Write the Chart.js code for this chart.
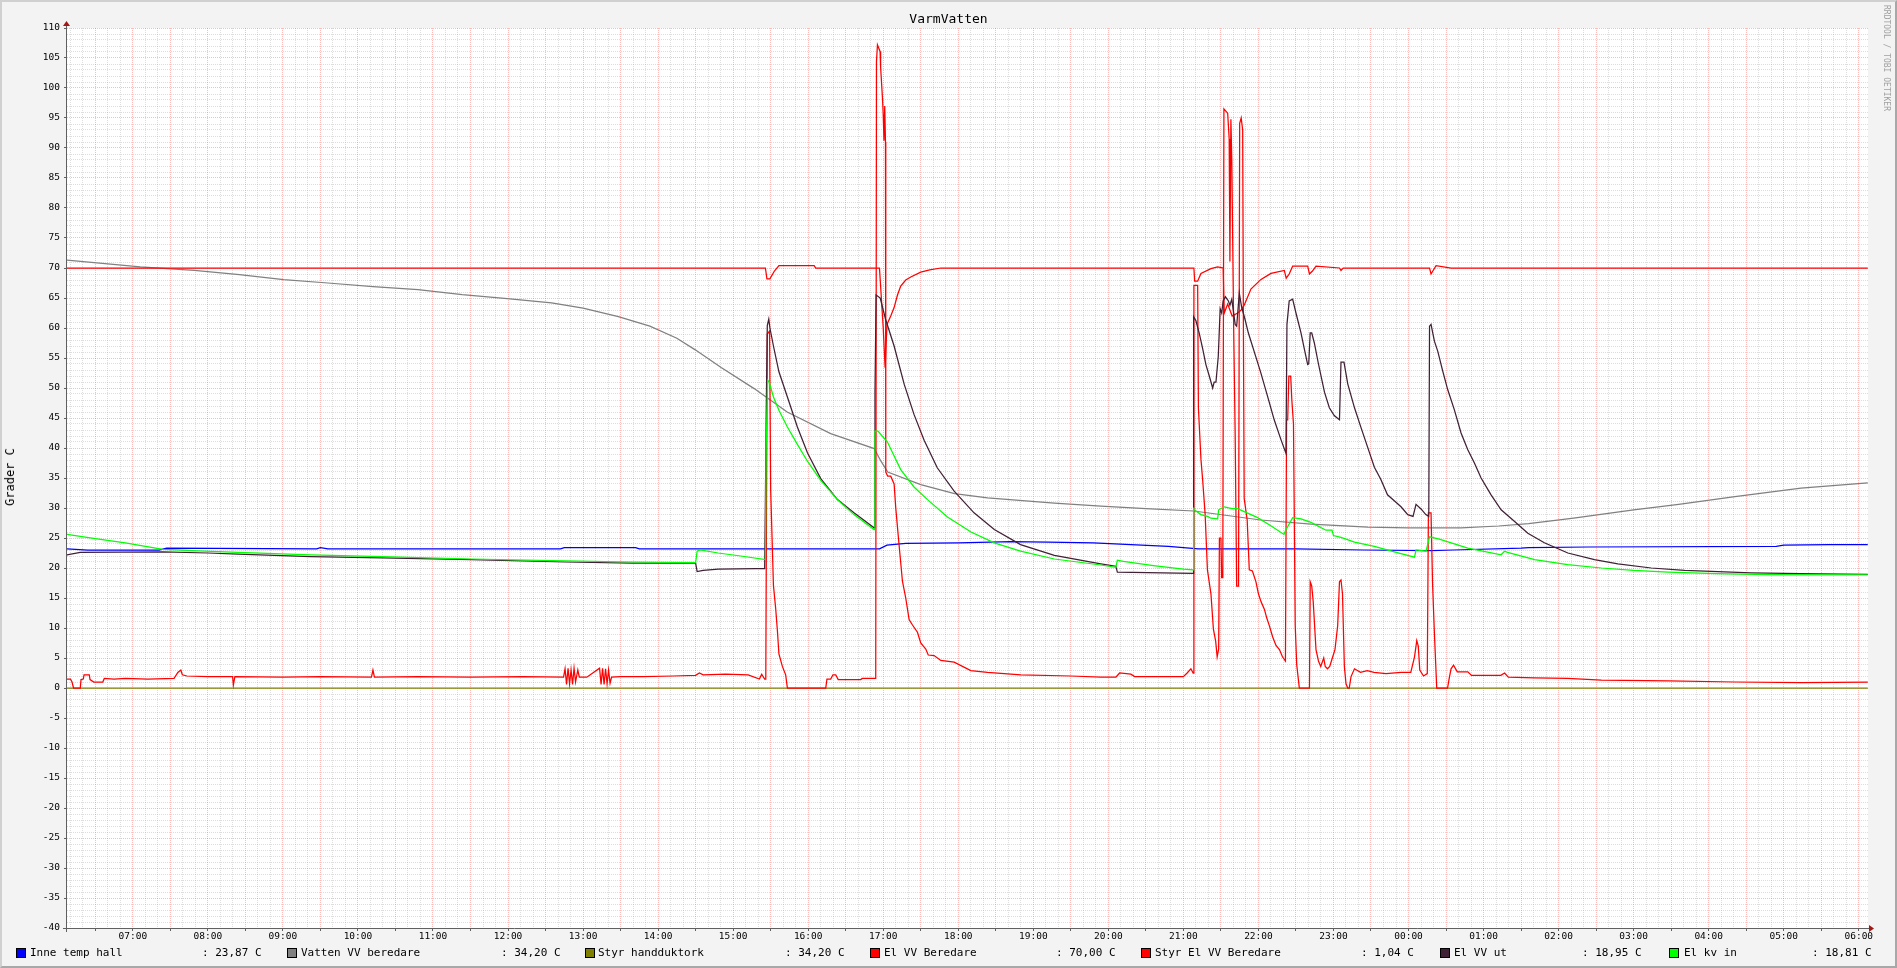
<!DOCTYPE html>
<html>
<head>
<meta charset="utf-8">
<title>VarmVatten</title>
<script src="https://cdn.jsdelivr.net/npm/chart.js@4/dist/chart.umd.min.js"></script>
<style>
html,body{margin:0;padding:0;background:#f3f3f3;}
#wrap{position:relative;width:1897px;height:968px;overflow:hidden;background:#f3f3f3;}
#frame{position:absolute;left:0;top:0;width:1897px;height:968px;box-sizing:border-box;border-top:2px solid #d0d0d0;border-left:2px solid #d0d0d0;border-right:2px solid #a8a8a8;border-bottom:2px solid #a8a8a8;pointer-events:none;}
canvas{position:absolute;left:0;top:0;}
.t{position:absolute;font-family:'DejaVu Sans Mono',monospace;color:#000;white-space:pre;line-height:1;}
.sq{position:absolute;width:8px;height:8px;border:1px solid #000;}
</style>
</head>
<body>
<div id="wrap">
<canvas id="c" width="1897" height="968"></canvas>
<div class="t" style="left:0;width:1897px;text-align:center;top:12px;font-size:13px;">VarmVatten</div>
<div class="t" style="left:10px;top:477px;font-size:12px;transform:translate(-50%,-50%) rotate(-90deg);">Grader C</div>
<div class="t" style="left:1882px;top:5px;font-size:8px;color:#a0a0a0;writing-mode:vertical-rl;">RRDTOOL / TOBI OETIKER</div>
<div id="legend"></div>
<div id="frame"></div>
</div>
<script>
// ---- time range (decimal hours, after midnight +24) ----
const T0 = 6.123, T1 = 30.123;

// ---- series: [time(h), value(C)] ----
const inneTempHall = [[6.12,23.2],[6.4,23.0],[7.35,23.0],[7.45,23.3],[9.45,23.2],[9.5,23.4],[9.6,23.2],[12.7,23.2],[12.75,23.4],[13.7,23.4],[13.75,23.2],[16.95,23.2],[17.05,23.8],[17.3,24.1],[18.0,24.2],[18.7,24.4],[19.2,24.3],[19.8,24.2],[20.3,23.9],[20.8,23.6],[21.2,23.2],[22.5,23.2],[23.4,23.0],[24.3,22.9],[24.6,23.0],[25.5,23.3],[25.6,23.4],[26.4,23.5],[28.9,23.6],[29.0,23.8],[29.6,23.9],[30.12,23.9]];

const vattenVVBeredare = [[6.12,71.3],[7.1,70.2],[7.82,69.6],[8.42,68.9],[9.01,68.05],[9.6,67.5],[10.2,66.9],[10.8,66.4],[11.39,65.55],[11.99,64.9],[12.58,64.2],[13.0,63.3],[13.47,61.9],[13.89,60.3],[14.25,58.3],[14.49,56.4],[14.84,53.4],[15.28,49.9],[15.72,46.0],[16.3,42.4],[16.88,39.9],[16.97,37.8],[17.06,36.0],[17.5,33.9],[17.95,32.4],[18.39,31.7],[19.28,30.8],[19.9,30.3],[20.5,29.9],[21.14,29.5],[22.03,28.0],[22.7,27.3],[23.46,26.8],[24.0,26.7],[24.7,26.7],[25.2,27.0],[25.6,27.4],[26.2,28.3],[27.0,29.7],[27.6,30.6],[28.35,31.9],[29.23,33.3],[30.12,34.2]];

const styrHandduktork = [[6.12,0],[30.12,0]];

const elVVBeredare = [[6.12,70],[15.43,70],[15.45,68.2],[15.49,68.2],[15.55,69.5],[15.61,70.4],[16.08,70.4],[16.1,70],[16.95,70],[16.97,66],[17.0,60],[17.025,53.4],[17.05,60.6],[17.1,62],[17.145,63.4],[17.19,65.5],[17.233,67.0],[17.3,68.0],[17.367,68.5],[17.5,69.3],[17.62,69.7],[17.767,70],[21.14,70],[21.15,67.8],[21.19,67.8],[21.234,69.1],[21.367,69.9],[21.456,70.2],[21.53,70.0],[21.545,62.5],[21.59,64],[21.65,62],[21.723,62.5],[21.77,63],[21.81,63.8],[21.9,66.5],[22.034,68.1],[22.167,69.1],[22.345,69.6],[22.37,68.3],[22.41,69.0],[22.456,70.3],[22.656,70.3],[22.68,69.0],[22.72,69.5],[22.767,70.3],[23.08,70],[23.1,69.6],[23.13,70],[24.28,70],[24.3,69],[24.367,70.4],[24.567,70],[30.12,70]];

const styrElVVBeredare = [[6.12,1.5],[6.17,1.5],[6.19,1.0],[6.21,0],[6.30,0],[6.31,1.4],[6.34,1.5],[6.35,2.2],[6.42,2.2],[6.43,1.4],[6.48,1.0],[6.60,1.0],[6.62,1.6],[6.75,1.5],[6.9,1.6],[7.2,1.5],[7.55,1.6],[7.6,2.6],[7.64,3.0],[7.66,2.2],[7.72,2.0],[8.0,1.9],[8.33,1.9],[8.34,0.5],[8.36,1.9],[9.0,1.8],[9.5,1.9],[10.18,1.8],[10.2,3.0],[10.22,1.8],[10.8,1.9],[11.5,1.8],[12.2,1.9],[12.74,1.8],
[12.76,3.2],[12.78,0.6],[12.8,3.3],[12.82,0.7],[12.84,3.0],[12.86,0.6],[12.88,3.3],[12.9,1.0],[12.93,3.0],[12.95,1.8],[13.05,1.8],[13.22,3.3],[13.24,0.6],[13.26,3.3],[13.28,0.6],[13.3,3.2],[13.32,0.7],[13.34,3.0],[13.36,0.8],[13.38,1.8],[13.5,1.9],[13.8,1.9],[14.2,2.0],[14.5,2.1],[14.55,2.5],[14.6,2.2],[14.9,2.3],[15.2,2.2],[15.35,1.5],[15.38,2.3],[15.42,1.5],
[15.435,1.5],[15.445,31.7],[15.455,59.0],[15.485,59.5],[15.5,33.1],[15.537,17.1],[15.567,13.2],[15.59,9.5],[15.61,5.7],[15.656,3.6],[15.7,2.2],[15.723,0],[16.234,0],[16.25,1.5],[16.3,1.5],[16.33,2.2],[16.367,2.2],[16.4,1.4],[16.7,1.4],[16.72,1.6],[16.9,1.6],
[16.91,104.4],[16.923,107.2],[16.958,106.1],[16.965,103.5],[16.99,98.3],[17.0,95.5],[17.01,91.2],[17.02,97],[17.03,91],[17.034,36.0],[17.06,35.3],[17.1,35.3],[17.145,34],[17.167,30],[17.21,24],[17.256,17.8],[17.3,15],[17.345,11.4],[17.39,10.5],[17.456,9.3],[17.5,7.5],[17.567,6.5],[17.6,5.5],[17.678,5.4],[17.767,4.6],[17.945,4.3],[18.167,2.9],[18.39,2.6],[18.834,2.2],[19.5,2.0],[19.9,1.8],[20.1,1.8],[20.15,2.5],[20.3,2.3],[20.35,1.9],[21.0,1.9],[21.05,2.5],[21.1,3.2],[21.13,2.5],
[21.14,67.1],[21.19,67.1],[21.2,46.7],[21.234,38.1],[21.256,34.8],[21.29,28.9],[21.32,19.7],[21.367,15.7],[21.4,9.8],[21.43,7.8],[21.45,5.2],[21.47,6.5],[21.48,25],[21.5,25],[21.51,18.4],[21.525,18.4],[21.54,96.5],[21.59,95.8],[21.61,91.5],[21.62,71.1],[21.633,94.8],[21.645,88],[21.67,60],[21.69,42.1],[21.71,17],[21.735,17],[21.75,94.1],[21.77,95],[21.79,93],[21.8,58.9],[21.81,31.6],[21.85,28],[21.878,19.7],[21.92,19.5],[21.967,17.7],[22.0,15.7],[22.034,14.4],[22.08,13.1],[22.11,11.7],[22.145,10.4],[22.19,8.5],[22.234,7.1],[22.28,6.4],[22.32,5.2],[22.36,4.5],[22.375,44.7],[22.39,44.7],[22.405,52],[22.43,52],[22.445,48],[22.467,44],[22.49,10.5],[22.51,3.9],[22.545,0],[22.68,0],[22.69,17.7],[22.71,17.0],[22.73,14.4],[22.767,6.4],[22.8,4.5],[22.83,3.6],[22.87,5.0],[22.89,3.6],[22.92,3.2],[22.95,3.6],[22.99,5.2],[23.02,6.4],[23.056,10.4],[23.08,17.7],[23.1,18.0],[23.12,15.7],[23.145,3.6],[23.167,0.7],[23.19,0],[23.21,0],[23.234,1.9],[23.28,3.2],[23.36,2.6],[23.45,2.9],[23.54,2.6],[23.7,2.4],[23.9,2.6],[24.03,2.6],[24.08,5.2],[24.11,7.9],[24.13,7.0],[24.15,3.0],[24.2,2.0],[24.25,2.4],[24.265,29.2],[24.3,29.2],[24.32,17.5],[24.345,9.1],[24.376,0],[24.52,0],[24.545,1.8],[24.567,3.2],[24.6,3.8],[24.65,2.7],[24.79,2.7],[24.84,2.1],[25.23,2.1],[25.28,2.5],[25.33,1.8],[25.68,1.7],[26.12,1.6],[26.57,1.3],[27.46,1.2],[28.35,1.0],[29.23,0.9],[30.12,1.0]];

const elVVUt = [[6.12,22.2],[6.3,22.6],[7.4,22.7],[8.0,22.5],[8.4,22.3],[9.37,21.9],[10.32,21.7],[11.51,21.4],[12.76,21.0],[13.65,20.8],[14.5,20.8],[14.52,19.4],[14.6,19.6],[14.8,19.8],[15.3,19.9],[15.42,19.9],[15.43,31.7],[15.44,45],[15.455,60.4],[15.475,61.5],[15.49,60.0],[15.537,57],[15.61,52.7],[15.723,48.5],[15.856,43.5],[15.99,39.2],[16.167,34.9],[16.39,31.4],[16.61,29.2],[16.878,26.7],[16.89,49.2],[16.905,65.5],[16.96,65.0],[17.03,61.5],[17.145,57],[17.28,50.6],[17.41,45.6],[17.545,41.3],[17.72,36.7],[17.945,32.8],[18.21,29.2],[18.48,26.4],[18.83,23.9],[19.28,22.1],[19.9,20.7],[20.1,20.3],[20.12,19.3],[21.13,19.1],[21.136,61.9],[21.167,61.2],[21.21,59.2],[21.256,56.6],[21.3,53.9],[21.345,52],[21.39,50],[21.41,51],[21.434,51],[21.465,55.3],[21.49,63.2],[21.51,62.5],[21.53,64.5],[21.56,65.2],[21.6,64.5],[21.62,63.8],[21.645,64.8],[21.69,60.6],[21.71,60.3],[21.745,65.8],[21.776,63.5],[21.82,61.5],[21.865,59.2],[21.93,56.6],[22.03,52.6],[22.12,48.7],[22.21,44.7],[22.3,41.4],[22.367,39.1],[22.38,60.6],[22.41,64.5],[22.456,64.8],[22.5,62.5],[22.567,59.2],[22.61,56.6],[22.656,53.9],[22.67,54],[22.69,59.2],[22.71,59.2],[22.745,57.5],[22.8,54],[22.88,49.3],[22.945,46.7],[23.01,45.4],[23.05,45.0],[23.08,44.7],[23.1,54.3],[23.14,54.3],[23.19,50.7],[23.28,46.7],[23.367,43.4],[23.456,40.1],[23.545,36.8],[23.63,34.8],[23.72,32.2],[23.81,31.2],[23.9,30.2],[23.99,28.9],[24.06,28.6],[24.1,30.6],[24.17,29.8],[24.23,28.9],[24.27,28.6],[24.28,60.3],[24.3,60.6],[24.345,57.8],[24.39,56.1],[24.456,52.8],[24.523,49.7],[24.61,46.4],[24.7,42.5],[24.79,39.7],[24.878,37.5],[24.967,35.0],[25.1,32.2],[25.234,29.7],[25.41,27.8],[25.59,25.8],[25.81,24.2],[26.123,22.5],[26.478,21.4],[26.79,20.7],[27.234,20.0],[27.68,19.6],[28.567,19.2],[29.234,19.05],[30.12,18.95]];

const elKvIn = [[6.12,25.6],[6.5,24.9],[6.9,24.2],[7.4,23.1],[7.8,22.9],[8.4,22.6],[9.37,22.2],[10.32,21.9],[11.51,21.5],[12.76,21.2],[13.65,21.0],[14.5,20.9],[14.52,22.8],[14.56,23.0],[14.8,22.5],[15.1,22.0],[15.43,21.4],[15.44,40],[15.46,51.3],[15.48,51],[15.537,48.5],[15.61,46.3],[15.723,43.5],[15.856,40.6],[15.99,37.8],[16.167,34.6],[16.39,31.4],[16.61,28.9],[16.878,26.4],[16.89,42.8],[16.93,42.8],[17.056,41],[17.233,36.4],[17.41,33.5],[17.59,31.4],[17.856,28.5],[18.17,26.0],[18.48,24.2],[18.83,22.8],[19.28,21.5],[19.9,20.5],[20.1,20.1],[20.12,21.3],[20.2,21.1],[20.6,20.4],[21.0,19.8],[21.13,19.7],[21.136,29.9],[21.167,29.5],[21.234,28.9],[21.32,28.6],[21.367,28.3],[21.456,28.2],[21.47,29.7],[21.545,30.2],[21.65,29.9],[21.723,29.9],[21.81,29.4],[21.99,28.4],[22.17,27.0],[22.34,25.6],[22.36,26.2],[22.456,28.4],[22.567,28.2],[22.7,27.6],[22.9,26.3],[22.98,26.3],[23.0,25.4],[23.1,25.1],[23.28,24.3],[23.545,23.6],[23.81,22.7],[24.08,21.8],[24.1,23.0],[24.234,22.8],[24.28,25.2],[24.41,24.8],[24.79,23.3],[25.234,22.2],[25.28,22.8],[25.32,22.6],[25.68,21.4],[26.12,20.55],[26.57,20.0],[27.0,19.6],[27.46,19.3],[28.1,19.05],[28.8,18.9],[30.12,18.85]];

// ---- legend text ----
const legendLabels = ['Inne temp hall','Vatten VV beredare','Styr handduktork','El VV Beredare','Styr El VV Beredare','El VV ut','El kv in'];
const legendValues = [': 23,87 C',': 34,20 C',': 34,20 C',': 70,00 C',': 1,04 C',': 18,95 C',': 18,81 C'];

// ---- styles ----
const seriesData = [inneTempHall, vattenVVBeredare, styrHandduktork, elVVBeredare, styrElVVBeredare, elVVUt, elKvIn];
const seriesColors = ['#0000ff','#808080','#808000','#ff0000','#ff0000','#402035','#00ff00'];
const legendSquareX = [16, 287, 585, 870, 1141, 1440, 1669];
const legendLabelX = [30, 301, 598, 884, 1155, 1454, 1684];
const legendValueX = [202, 501, 785, 1056, 1361, 1582, 1812];

// legend
const lg = document.getElementById('legend');
legendLabels.forEach((lab,i)=>{
  const sq = document.createElement('div'); sq.className='sq';
  sq.style.left = legendSquareX[i]+'px'; sq.style.top='948px'; sq.style.background=seriesColors[i];
  lg.appendChild(sq);
  const a = document.createElement('div'); a.className='t'; a.style.fontSize='11px';
  a.style.left=legendLabelX[i]+'px'; a.style.top='947px'; a.textContent=lab; lg.appendChild(a);
  const b = document.createElement('div'); b.className='t'; b.style.fontSize='11px';
  b.style.left=legendValueX[i]+'px'; b.style.top='947px'; b.textContent=legendValues[i]; lg.appendChild(b);
});

const datasets = seriesData.map((arr,i)=>({
  label: legendLabels[i],
  data: arr.map(p=>({x:p[0], y:p[1]})),
  borderColor: seriesColors[i],
  backgroundColor: seriesColors[i],
  borderWidth: 1.25,
  pointRadius: 0,
  tension: 0,
  fill: false,
  order: 6 - i
}));

const MAJOR = 'rgba(255,40,40,0.32)';
const MINOR = 'rgba(150,150,150,0.32)';

const rrdPlugin = {
  id: 'rrdFrame',
  beforeDraw(chart){
    const {ctx, chartArea:a} = chart;
    ctx.save(); ctx.fillStyle = '#ffffff';
    ctx.fillRect(a.left, a.top, a.right - a.left, a.bottom - a.top);
    ctx.restore();
  },
  afterDatasetsDraw(chart){
    const {ctx, chartArea:a} = chart;
    const x = Math.round(a.left) - 0.5, y = Math.round(a.bottom) + 0.5;
    ctx.save();
    ctx.strokeStyle = '#606060'; ctx.lineWidth = 1;
    ctx.beginPath();
    ctx.moveTo(x, a.bottom + 4); ctx.lineTo(x, a.top - 3);
    ctx.moveTo(a.left - 4, y); ctx.lineTo(a.right + 1, y);
    ctx.stroke();
    ctx.fillStyle = '#a01818';
    ctx.beginPath();
    ctx.moveTo(x, a.top - 7); ctx.lineTo(x - 3.5, a.top - 2); ctx.lineTo(x + 3.5, a.top - 2); ctx.closePath(); ctx.fill();
    ctx.beginPath();
    ctx.moveTo(a.right + 6, y); ctx.lineTo(a.right + 1, y - 3.5); ctx.lineTo(a.right + 1, y + 3.5); ctx.closePath(); ctx.fill();
    ctx.restore();
  }
};

new Chart(document.getElementById('c'), {
  type: 'line',
  data: { datasets },
  options: {
    responsive: false,
    animation: false,
    devicePixelRatio: 1,
    events: [],
    layout: { padding: { top: 28, right: 29, bottom: 20, left: 0 } },
    plugins: { legend: { display: false }, title: { display: false }, tooltip: { enabled: false } },
    scales: {
      x: {
        type: 'linear', min: T0, max: T1,
        afterBuildTicks(s){
          const t = [];
          for (let k = Math.ceil(T0*6); k <= Math.floor(T1*6); k++) t.push({ value: k/6 });
          s.ticks = t;
        },
        afterFit(s){ s.height = 20; },
        ticks: {
          autoSkip: false, maxRotation: 0, minRotation: 0, padding: 0,
          color: '#000', font: { family: 'DejaVu Sans Mono', size: 9.5 },
          callback(v){
            const k = Math.round(v*6);
            if (k % 6 !== 0) return '';
            const h = (k/6) % 24;
            return String(h).padStart(2,'0') + ':00';
          }
        },
        grid: {
          lineWidth: 1,
          drawTicks: true, tickLength: 3,
          color(ctx){ const k = Math.round(ctx.tick.value*6); return k % 3 === 0 ? MAJOR : MINOR; },
          tickColor(ctx){ const k = Math.round(ctx.tick.value*6); return k % 3 === 0 ? '#606060' : 'rgba(0,0,0,0)'; }
        },
        border: { display: false, dash: [1,1] }
      },
      y: {
        type: 'linear', min: -40, max: 110,
        afterBuildTicks(s){
          const t = [];
          for (let v = -40; v <= 110; v++) t.push({ value: v });
          s.ticks = t;
        },
        afterFit(s){ s.width = 67; },
        ticks: {
          autoSkip: false, padding: 4,
          color: '#000', font: { family: 'DejaVu Sans Mono', size: 9.5 },
          callback(v){ return (Math.round(v) % 5 === 0) ? String(Math.round(v)) : ''; }
        },
        grid: {
          lineWidth: 1,
          drawTicks: true, tickLength: 3,
          color(ctx){ return Math.round(ctx.tick.value) % 5 === 0 ? MAJOR : MINOR; },
          tickColor(ctx){ return Math.round(ctx.tick.value) % 5 === 0 ? '#606060' : 'rgba(0,0,0,0)'; }
        },
        border: { display: false, dash: [1,1] }
      }
    }
  },
  plugins: [rrdPlugin]
});
</script>
</body>
</html>
